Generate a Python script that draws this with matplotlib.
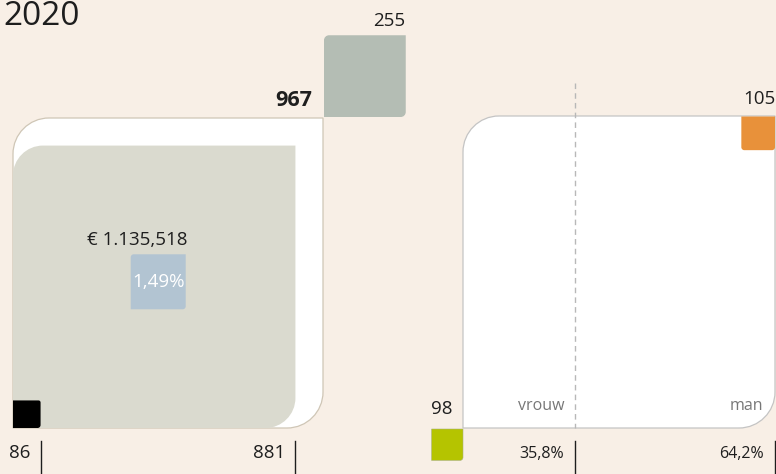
import matplotlib
matplotlib.use("Agg")
import matplotlib.pyplot as plt
from matplotlib.path import Path
from matplotlib.patches import PathPatch

# ---- data ----
year = "2020"
total = 967          # big square (white)
extra = 255          # square on top-right
main_value = 881     # inner grey square
small_value = 86     # black square
amount_label = "€ 1.135,518"
pct_value = 1.49     # blue square
pct_label = "1,49%"
women_value = 98
men_value = 105
gender_labels = ["vrouw", "man"]
gender_share = [35.8, 64.2]
gender_share_labels = ["35,8%", "64,2%"]

# ---- style ----
BG = "#f8efe6"
TXT = "#1e1e1e"
FONT = "Open Sans"
W = "normal"
S = 310 / total       # px per unit
PCT_S = 55 / pct_value

fig = plt.figure(figsize=(7.76, 4.74), dpi=100)
fig.patch.set_facecolor(BG)
ax = fig.add_axes([0, 0, 1, 1])
ax.set_xlim(0, 776)
ax.set_ylim(474, 0)
ax.axis("off")
ax.set_facecolor(BG)


def rrect(x, y, w, h, tl=0, tr=0, br=0, bl=0):
    k = 0.5523
    v = [(x + tl, y)]
    c = [Path.MOVETO]
    v.append((x + w - tr, y)); c.append(Path.LINETO)
    if tr:
        v += [(x + w - tr + k * tr, y), (x + w, y + tr - k * tr), (x + w, y + tr)]
        c += [Path.CURVE4] * 3
    v.append((x + w, y + h - br)); c.append(Path.LINETO)
    if br:
        v += [(x + w, y + h - br + k * br), (x + w - br + k * br, y + h), (x + w - br, y + h)]
        c += [Path.CURVE4] * 3
    v.append((x + bl, y + h)); c.append(Path.LINETO)
    if bl:
        v += [(x + bl - k * bl, y + h), (x, y + h - bl + k * bl), (x, y + h - bl)]
        c += [Path.CURVE4] * 3
    v.append((x, y + tl)); c.append(Path.LINETO)
    if tl:
        v += [(x, y + tl - k * tl), (x + tl - k * tl, y), (x + tl, y)]
        c += [Path.CURVE4] * 3
    v.append((x + tl, y)); c.append(Path.CLOSEPOLY)
    return Path(v, c)


def box(x, y, w, h, fc, ec="none", lw=0, z=1, **r):
    ax.add_patch(PathPatch(rrect(x, y, w, h, **r), facecolor=fc, edgecolor=ec,
                           lw=lw, zorder=z))


# ---------- left panel ----------
LX, LB = 13, 428           # bottom-left anchor
side = total * S
box(LX, LB - side, side, side, "white", ec="#cfc6b6", lw=0.9, z=1, tl=36, br=36)
ms = main_value * S
box(LX, LB - ms, ms, ms, "#dadacf", z=2, tl=30, br=30)
es = extra * S
box(LX + side + 1, LB - side - es - 1, es, es, "#b4bdb4", z=2, tl=5, br=5)
ss = small_value * S
box(LX, LB - ss, ss, ss, "black", z=3, tr=2, br=3)
ps = pct_value * PCT_S
cx, cy = LX + ms / 2 + 4, LB - ms / 2 - 5
box(cx - ps / 2, cy - ps / 2, ps, ps, "#b2c4d2", z=3, tl=3, br=3)

ax.text(3, 25, year, fontsize=24, family=FONT, weight=W, color=TXT, va="baseline", ha="left")
ax.text(LX + side + es + 1, LB - side - es - 10, f"{extra}", fontsize=13.5, family=FONT,
        weight=W, color=TXT, ha="right", va="baseline")
ax.text(LX + side - 11, LB - side - 12, f"{total}", fontsize=15.5, family=FONT,
        weight="bold", color=TXT, ha="right", va="baseline")
ax.text(cx - 21, cy - 37, amount_label, fontsize=13.5, family=FONT, weight=W, color=TXT,
        ha="center", va="baseline")
ax.text(cx, cy + 5, pct_label, fontsize=13.5, family=FONT, weight=W, color="white",
        ha="center", va="baseline", zorder=4)

for v in (small_value, main_value):
    xv = LX + v * S
    ax.plot([xv, xv], [441, 474], color=TXT, lw=1.0, zorder=3)
    ax.text(xv - 10, 458, f"{v}", fontsize=13.5, family=FONT, weight=W, color=TXT,
            ha="right", va="baseline")

# ---------- right panel ----------
RX = 463
RS = side + 2
box(RX, LB - RS, RS, RS, "white", ec="#c4c4c4", lw=0.9, z=1, tl=36, br=36)
xs = RX + gender_share[0] / 100 * RS
ax.plot([xs, xs], [83, LB], color="#b8b8b8", lw=1.0, ls=(0, (4, 3)), zorder=2)

ws = women_value * S
box(RX - ws, LB + 1, ws, ws, "#b5c400", ec="#a8b080", lw=0.4, z=2, br=3)
ns = men_value * S
box(RX + RS - ns, LB - RS + 0.5, ns, ns, "#e8913a", z=2, bl=3, br=3)

ax.text(RX - ws + 10, 414, f"{women_value}", fontsize=13.5, family=FONT, weight=W,
        color=TXT, ha="center", va="baseline")
ax.text(RX + RS + 1, LB - RS - 12, f"{men_value}", fontsize=13.5, family=FONT, weight=W,
        color=TXT, ha="right", va="baseline")

ax.text(xs - 10, 410, gender_labels[0], fontsize=11.5, family=FONT, weight=W,
        color="#777777", ha="right", va="baseline")
ax.text(RX + RS - 12, 410, gender_labels[1], fontsize=11.5, family=FONT, weight=W,
        color="#777777", ha="right", va="baseline")

edges = [xs, RX + RS]
for xe, lab in zip(edges, gender_share_labels):
    ax.plot([xe, xe], [441, 474], color=TXT, lw=1.0, zorder=3)
    ax.text(xe - 11, 458, lab, fontsize=11.5, family=FONT, weight=W, color=TXT,
            ha="right", va="baseline")

fig.savefig("out.png", dpi=100, facecolor=BG)
